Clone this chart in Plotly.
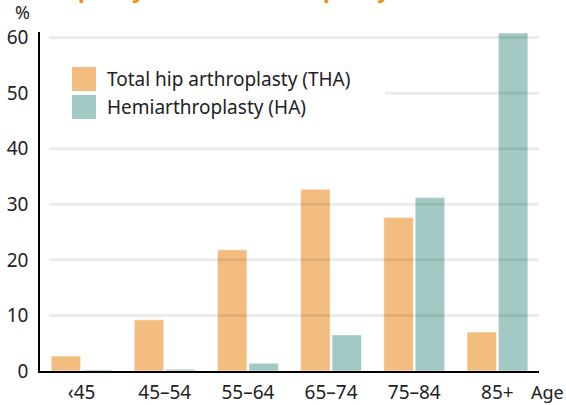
import plotly.graph_objects as go

age_groups = ["‹45", "45–54", "55–64", "65–74", "75–84", "85+"]
tha_values = [2.7, 9.2, 21.8, 32.7, 27.6, 7.0]
ha_values = [0.2, 0.3, 1.4, 6.5, 31.2, 60.8]
y_ticks = [0, 10, 20, 30, 40, 50, 60]

tha_color = "#f2bd7e"
ha_color = "#a2c9c3"
font_family = "Noto Sans"

# plot area in pixels: x 40..539, y 32..371
W, H = 566, 405
ML, MR, MT, MB = 40, 27, 32, 34
PW, PH = W - ML - MR, H - MT - MB


def px(x):
    return (x - ML) / PW


def py(y):
    return (H - MB - y) / PH


fig = go.Figure()
fig.add_trace(
    go.Bar(
        x=age_groups,
        y=tha_values,
        name="Total hip arthroplasty (THA)",
        marker=dict(color=tha_color, line=dict(color="rgba(255,255,255,0.5)", width=1)),
    )
)
fig.add_trace(
    go.Bar(
        x=age_groups,
        y=ha_values,
        name="Hemiarthroplasty (HA)",
        marker=dict(color=ha_color, line=dict(color="rgba(255,255,255,0.5)", width=1)),
    )
)

shapes = []
# grid lines drawn on top of the bars
for t in y_ticks[1:]:
    shapes.append(
        dict(
            type="line", xref="paper", yref="y", x0=px(49), x1=px(539), y0=t, y1=t,
            line=dict(color="rgba(0,0,0,0.08)", width=3), layer="above",
        )
    )
# legend box background
shapes.append(
    dict(
        type="rect", xref="paper", yref="paper", x0=px(41), x1=px(385), y0=py(127), y1=py(60),
        fillcolor="white", line=dict(width=0), layer="above",
    )
)
# legend swatches
shapes.append(
    dict(
        type="rect", xref="paper", yref="paper", x0=px(72), x1=px(96), y0=py(91), y1=py(67),
        fillcolor=tha_color, line=dict(width=0), layer="above",
    )
)
shapes.append(
    dict(
        type="rect", xref="paper", yref="paper", x0=px(72), x1=px(96), y0=py(119), y1=py(95),
        fillcolor=ha_color, line=dict(width=0), layer="above",
    )
)

annotations = [
    dict(text="Total hip arthroplasty (THA)", x=px(105), y=py(79), xanchor="left", yanchor="middle", size=19),
    dict(text="Hemiarthroplasty (HA)", x=px(105), y=py(107), xanchor="left", yanchor="middle", size=19),
    dict(text="%", x=px(22), y=py(12), xanchor="center", yanchor="middle", size=18),
    dict(text="Age", x=px(566), y=py(392), xanchor="right", yanchor="middle", size=18),
]
for a in annotations:
    size = a.pop("size")
    a.update(xref="paper", yref="paper", showarrow=False, font=dict(size=size, color="#222"))

# clipped title line from above the chart
annotations.append(
    dict(
        text="<b>arthroplasty and hemiarthroplasty</b>",
        xref="paper", yref="paper", x=px(6), y=py(6), xanchor="left", yanchor="bottom",
        showarrow=False, font=dict(size=22, color="#f0900a"),
    )
)

fig.update_layout(
    width=W,
    height=H,
    margin=dict(l=ML, r=MR, t=MT, b=MB),
    paper_bgcolor="white",
    plot_bgcolor="white",
    barmode="group",
    bargap=0.245,
    bargroupgap=0.06,
    showlegend=False,
    font=dict(family=font_family, size=19, color="#222"),
    shapes=shapes,
    annotations=annotations,
    xaxis=dict(
        showline=True, linecolor="black", linewidth=1.5, showgrid=False,
        ticks="outside", ticklen=3, tickcolor="rgba(0,0,0,0)",
        tickfont=dict(size=19), range=[-0.5, 5.5], automargin=False,
    ),
    yaxis=dict(
        range=[0, 61], tickvals=y_ticks, showgrid=False, zeroline=False,
        showline=True, linecolor="black", linewidth=1.5,
        ticks="outside", ticklen=6, tickcolor="rgba(0,0,0,0)",
        tickfont=dict(size=19), automargin=False,
    ),
)

fig.write_html(
    "out.html",
    config={"displayModeBar": False},
    post_script="document.body.style.margin='0';",
)
